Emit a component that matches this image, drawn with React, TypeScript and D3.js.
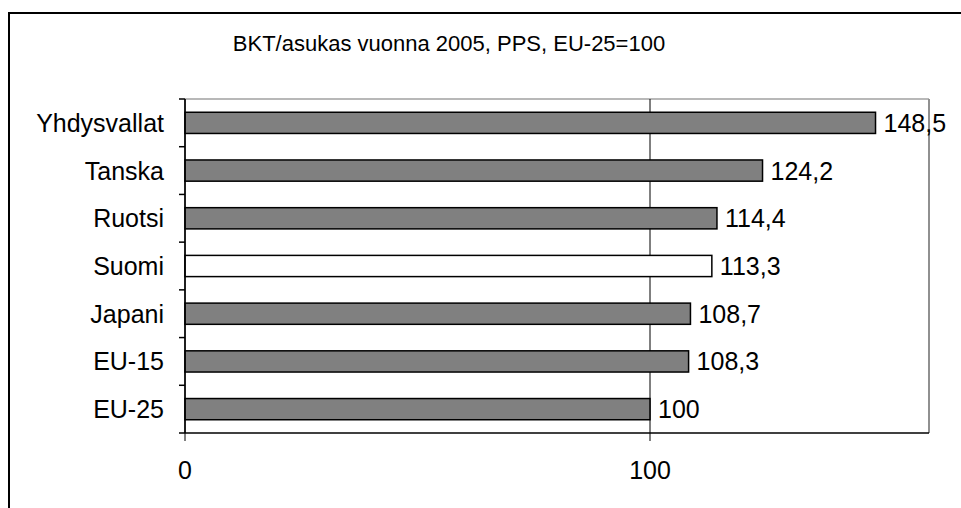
import React from 'react';
import * as d3 from 'd3';

// data (top to bottom)
const categories = ['Yhdysvallat', 'Tanska', 'Ruotsi', 'Suomi', 'Japani', 'EU-15', 'EU-25'];
const values = [148.5, 124.2, 114.4, 113.3, 108.7, 108.3, 100];
const labels = ['148,5', '124,2', '114,4', '113,3', '108,7', '108,3', '100'];
const highlight = ['Suomi'];
const xTicks = [0, 100];
const title = 'BKT/asukas vuonna 2005, PPS, EU-25=100';

const W = 961;
const H = 508;
const plot = { left: 185, right: 929, top: 99, bottom: 433 };
const font = '"Liberation Sans", Arial, sans-serif';
const fs = 25;

const App = () => {
  const x = d3.scaleLinear().domain([0, 160]).range([plot.left, plot.right]);
  const y = d3.scaleBand().domain(categories).range([plot.top, plot.bottom]).padding(0);
  const barH = y.bandwidth() / 2.25; // excel gap width 125%
  const bounds = d3.range(categories.length + 1).map((i) => plot.top + i * y.step());

  return (
    <svg width={W} height={H} style={{ position: 'absolute', left: 0, top: 0, background: '#fff' }}>
      <rect x={9} y={13} width={1000} height={600} fill="#fff" stroke="#000" strokeWidth={2} />
      <text x={449} y={51} textAnchor="middle" fontFamily={font} fontSize={22} fill="#000">{title}</text>

      {/* plot frame */}
      <line x1={plot.left} x2={plot.right} y1={plot.top} y2={plot.top} stroke="#a0a0a0" strokeWidth={1.5} />
      <line x1={plot.right} x2={plot.right} y1={plot.top} y2={plot.bottom} stroke="#909090" strokeWidth={2} />

      {/* gridlines + x ticks */}
      {xTicks.map((t) => (
        <g key={t}>
          <line x1={x(t)} x2={x(t)} y1={plot.top} y2={plot.bottom + 8} stroke="#000" strokeWidth={1} />
          <text x={x(t)} y={479} textAnchor="middle" fontFamily={font} fontSize={fs} fill="#000">{t}</text>
        </g>
      ))}

      {/* bars */}
      {categories.map((c, i) => {
        const cy = (y(c) as number) + y.bandwidth() / 2;
        return (
          <g key={c}>
            <rect
              x={x(0)}
              y={cy - barH / 2}
              width={x(values[i]) - x(0)}
              height={barH}
              fill={highlight.includes(c) ? '#fff' : '#808080'}
              stroke="#000"
              strokeWidth={1.5}
            />
            <text x={x(values[i]) + 8} y={cy + 9} fontFamily={font} fontSize={fs} fill="#000">{labels[i]}</text>
            <text x={164} y={cy + 9} textAnchor="end" fontFamily={font} fontSize={fs} fill="#000">{c}</text>
          </g>
        );
      })}

      {/* axes */}
      <line x1={plot.left} x2={plot.left} y1={plot.top} y2={plot.bottom} stroke="#000" strokeWidth={1.5} />
      {bounds.map((b, i) => (
        <line key={i} x1={plot.left - 6} x2={plot.left} y1={b} y2={b} stroke="#000" strokeWidth={1.5} />
      ))}
      <line x1={plot.left} x2={plot.right} y1={plot.bottom} y2={plot.bottom} stroke="#000" strokeWidth={1.5} />
    </svg>
  );
};

export default App;
